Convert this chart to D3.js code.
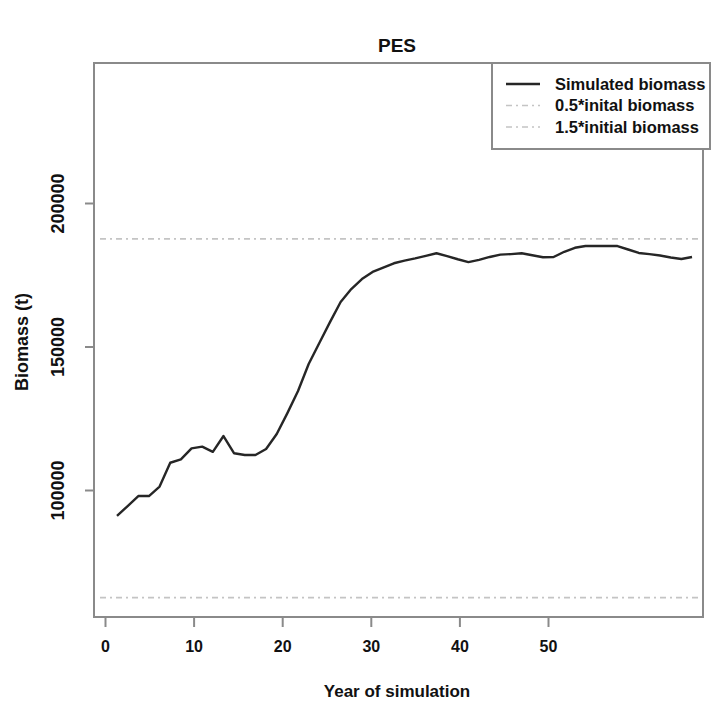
<!DOCTYPE html>
<html>
<head>
<meta charset="utf-8">
<script src="https://cdn.jsdelivr.net/npm/d3@7"></script>
<style>
  body { margin: 0; background: #fff; }
  svg text { font-family: "Liberation Sans", Arial, sans-serif; font-weight: bold; fill: #111; }
</style>
</head>
<body>
<div id="chart"></div>
<script>
const years = d3.range(1, 56);
const biomass = [
  91000, 94400, 97900, 97900, 101200, 109500, 110700, 114500, 115100, 113300,
  118800, 112800, 112200, 112200, 114300, 119500, 126800, 134500, 143900, 151200,
  158500, 165500, 170000, 173500, 176000, 177500, 179000, 179900, 180700, 181600,
  182500, 181500, 180400, 179400, 180200, 181200, 182000, 182200, 182500, 181800,
  181100, 181200, 183000, 184400, 185000, 185000, 185000, 185000, 183800, 182600,
  182200, 181700, 181000, 180500, 181200,
];
const initialBiomass = 125000;
const refFactors = [0.5, 1.5];
const xTicks = [0, 10, 20, 30, 40, 50];
const yTicks = [100000, 150000, 200000];
const legendLabels = ['Simulated biomass', '0.5*inital biomass', '1.5*initial biomass'];

const width = 712;
const height = 703;
const plot = { left: 94, top: 63, right: 703, bottom: 617 };

const svg = d3.select('#chart')
  .append('svg')
    .attr('width', width)
    .attr('height', height);

// data scale for the curve, separate scale for the printed axis
const x = d3.scaleLinear().domain([-1.16, 56.03]).range([plot.left, plot.right]);
const xAxisScale = d3.scaleLinear().domain([0, 50]).range([105, 548]);
const y = d3.scaleLinear().domain([55750, 248780]).range([plot.bottom, plot.top]);

const axisColor = '#8a8a8a';
const refDash = '6,4,2,4';

// reference lines
svg.append('g')
  .selectAll('line')
  .data(refFactors)
  .enter()
  .append('line')
    .attr('x1', plot.left + 6)
    .attr('x2', plot.right)
    .attr('y1', f => y(f * initialBiomass))
    .attr('y2', f => y(f * initialBiomass))
    .attr('stroke', '#c4c4c4')
    .attr('stroke-width', 1.6)
    .attr('stroke-dasharray', refDash);

// simulated biomass
const line = d3.line()
  .x((d, i) => x(years[i]))
  .y(d => y(d));

svg.append('path')
  .datum(biomass)
  .attr('d', line)
  .attr('fill', 'none')
  .attr('stroke', '#262626')
  .attr('stroke-width', 2.4)
  .attr('stroke-linejoin', 'round');

// plot box
svg.append('rect')
  .attr('x', plot.left)
  .attr('y', plot.top)
  .attr('width', plot.right - plot.left)
  .attr('height', plot.bottom - plot.top)
  .attr('fill', 'none')
  .attr('stroke', axisColor)
  .attr('stroke-width', 2);

// x axis
const xAxis = svg.append('g')
  .attr('transform', `translate(0, ${plot.bottom})`)
  .call(d3.axisBottom(xAxisScale).tickValues(xTicks).tickSize(10).tickPadding(14).tickFormat(d3.format('d')));
xAxis.select('.domain').remove();
xAxis.selectAll('line').attr('stroke', axisColor).attr('stroke-width', 2);
xAxis.selectAll('text')
  .attr('font-size', 16)
  .attr('font-family', '"Liberation Sans", Arial, sans-serif')
  .attr('font-weight', 'bold')
  .attr('fill', '#111');

// y axis, labels parallel to the axis
const yAxis = svg.append('g')
  .attr('transform', `translate(${plot.left}, 0)`)
  .call(d3.axisLeft(y).tickValues(yTicks).tickSize(9).tickFormat(d3.format('d')));
yAxis.select('.domain').remove();
yAxis.selectAll('line').attr('stroke', axisColor).attr('stroke-width', 2);
yAxis.selectAll('text')
  .attr('x', null)
  .attr('dy', null)
  .attr('text-anchor', 'middle')
  .attr('transform', 'translate(-30, 0) rotate(-90)')
  .attr('font-size', 18)
  .attr('font-family', '"Liberation Sans", Arial, sans-serif')
  .attr('font-weight', 'bold')
  .attr('fill', '#111');

// titles
svg.append('text')
  .attr('x', 397)
  .attr('y', 52)
  .attr('text-anchor', 'middle')
  .attr('font-size', 19)
  .text('PES');

svg.append('text')
  .attr('x', 397)
  .attr('y', 697)
  .attr('text-anchor', 'middle')
  .attr('font-size', 17)
  .text('Year of simulation');

svg.append('text')
  .attr('transform', 'translate(28, 342) rotate(-90)')
  .attr('text-anchor', 'middle')
  .attr('font-size', 18)
  .text('Biomass (t)');

// legend
const legend = svg.append('g');
legend.append('rect')
  .attr('x', 492)
  .attr('y', plot.top)
  .attr('width', 218)
  .attr('height', 86)
  .attr('fill', '#fff')
  .attr('stroke', axisColor)
  .attr('stroke-width', 2);

const legendStyles = [
  { stroke: '#262626', dash: null, width: 2.4 },
  { stroke: '#c4c4c4', dash: refDash, width: 1.6 },
  { stroke: '#c4c4c4', dash: refDash, width: 1.6 },
];

const rows = legend.selectAll('g.row')
  .data(legendLabels)
  .enter()
  .append('g')
    .attr('class', 'row')
    .attr('transform', (d, i) => `translate(0, ${84 + i * 21.5})`);

rows.append('line')
  .attr('x1', 506)
  .attr('x2', 540)
  .attr('stroke', (d, i) => legendStyles[i].stroke)
  .attr('stroke-width', (d, i) => legendStyles[i].width)
  .attr('stroke-dasharray', (d, i) => legendStyles[i].dash);

rows.append('text')
  .attr('x', 555)
  .attr('dy', '0.35em')
  .attr('font-size', 16.5)
  .text(d => d);
</script>
</body>
</html>
